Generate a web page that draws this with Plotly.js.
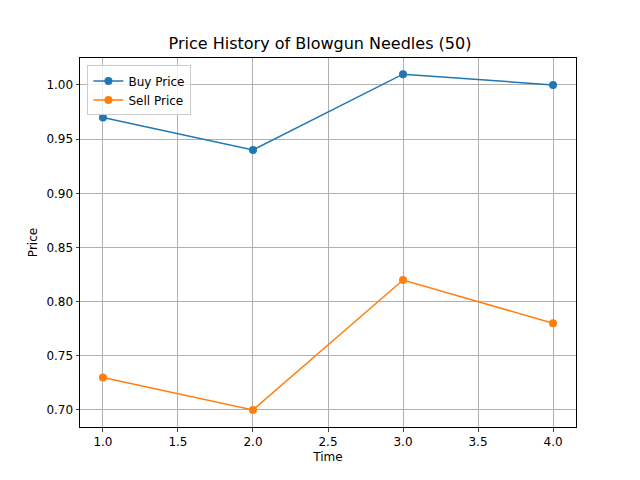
<!DOCTYPE html>
<html>
<head>
<script src="https://cdn.plot.ly/plotly-3.0.1.min.js"></script>
<style>body{margin:0}</style>
</head>
<body>
<div id="chart" style="width:640px;height:480px"></div>
<script>
var time = [1, 2, 3, 4];
var buyPrice = [0.97, 0.94, 1.01, 1.00];
var sellPrice = [0.73, 0.70, 0.82, 0.78];

var buy = {
    x: time, y: buyPrice, type: "scatter", mode: "lines+markers",
    name: "Buy Price",
    line: {color: "#1f77b4", width: 1.5},
    marker: {color: "#1f77b4", size: 8}
};
var sell = {
    x: time, y: sellPrice, type: "scatter", mode: "lines+markers",
    name: "Sell Price",
    line: {color: "#ff7f0e", width: 1.5},
    marker: {color: "#ff7f0e", size: 8}
};

var layout = {
    font: {family: "DejaVu Sans", size: 12, color: "#000"},
    title: {text: "Price History of Blowgun Needles (50)", font: {size: 16}, x: 0.5, y: 0.91, yanchor: "middle"},
    paper_bgcolor: "#fff",
    plot_bgcolor: "#fff",
    margin: {l: 80, r: 64, t: 58, b: 53},
    xaxis: {
        title: {text: "Time", standoff: 4, font: {size: 12}},
        range: [0.847, 4.153], dtick: 0.5, tick0: 1, tickformat: ".1f",
        showgrid: true, gridcolor: "#b0b0b0", zeroline: false,
        showline: true, linecolor: "#000", mirror: true,
        ticks: "outside", ticklen: 3.5
    },
    yaxis: {
        title: {text: "Price", standoff: 6, font: {size: 12}},
        range: [0.6843, 1.0249], dtick: 0.05, tick0: 0.7, tickformat: ".2f",
        showgrid: true, gridcolor: "#b0b0b0", zeroline: false,
        showline: true, linecolor: "#000", mirror: true,
        ticks: "outside", ticklen: 3.5
    },
    legend: {
        x: 0.015, y: 0.98, xanchor: "left", yanchor: "top",
        bordercolor: "#ccc", borderwidth: 1, bgcolor: "rgba(255,255,255,0.8)",
        font: {size: 12}, tracegroupgap: 0, itemwidth: 30
    },
    showlegend: true
};

Plotly.newPlot("chart", [buy, sell], layout, {displayModeBar: false});
</script>
</body>
</html>
